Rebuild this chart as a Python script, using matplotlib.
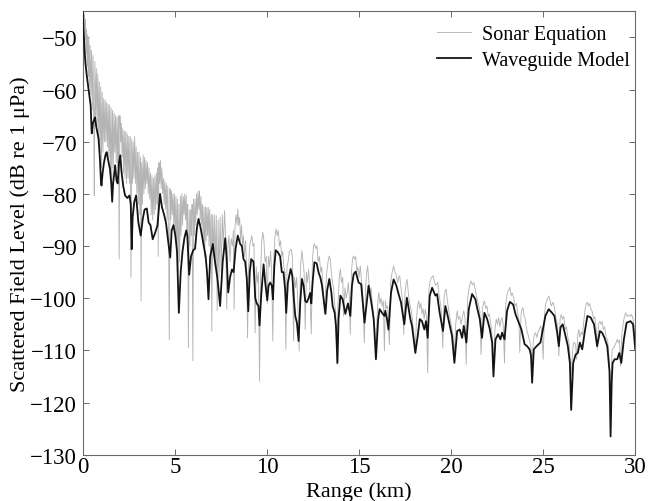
import matplotlib
matplotlib.use("Agg")
import matplotlib.pyplot as plt

plt.rcParams['font.family'] = ['Liberation Serif', 'DejaVu Serif']

# Waveguide Model (black): (range km, level dB)
waveguide = [
    (0.00, -45.0), (0.05, -49.0), (0.10, -52.5), (0.15, -55.0), (0.22, -57.3), (0.30, -59.5),
    (0.36, -61.0), (0.43, -63.0), (0.49, -68.4), (0.55, -66.5), (0.62, -65.8), (0.67, -65.3),
    (0.73, -67.0), (0.79, -68.1), (0.86, -69.4), (0.93, -73.0), (0.99, -77.5), (1.02, -78.4),
    (1.08, -76.0), (1.16, -73.9), (1.24, -72.5), (1.30, -72.0), (1.38, -73.5), (1.48, -75.2),
    (1.55, -78.0), (1.60, -81.5), (1.65, -78.0), (1.70, -76.5), (1.76, -74.5), (1.84, -77.5),
    (1.90, -78.0), (1.97, -74.0), (2.04, -72.6), (2.10, -75.5), (2.20, -78.5), (2.30, -80.3),
    (2.43, -80.8), (2.54, -80.3), (2.61, -82.0), (2.66, -90.6), (2.71, -84.5), (2.80, -81.5),
    (2.90, -80.3), (3.02, -85.4), (3.15, -88.0), (3.26, -84.8), (3.36, -83.0), (3.48, -82.8),
    (3.58, -85.5), (3.68, -86.0), (3.80, -88.7), (3.93, -87.5), (4.06, -86.0), (4.13, -83.0),
    (4.20, -80.0), (4.30, -82.5), (4.42, -84.0), (4.52, -85.5), (4.62, -88.5), (4.75, -92.2),
    (4.83, -87.0), (4.93, -86.0), (5.03, -88.0), (5.12, -91.0), (5.22, -102.8), (5.32, -95.0),
    (5.42, -91.0), (5.52, -88.5), (5.62, -87.0), (5.68, -88.0), (5.78, -95.5), (5.88, -92.0),
    (6.00, -90.8), (6.10, -90.5), (6.20, -86.5), (6.29, -84.8), (6.40, -86.5), (6.55, -89.5),
    (6.67, -91.9), (6.75, -95.0), (6.83, -100.2), (6.92, -92.0), (7.07, -89.6), (7.18, -93.0),
    (7.32, -96.3), (7.46, -101.5), (7.60, -93.0), (7.74, -88.5), (7.82, -92.5), (7.90, -98.9),
    (8.00, -96.0), (8.10, -94.5), (8.19, -95.0), (8.30, -90.5), (8.42, -88.0), (8.55, -89.6),
    (8.64, -90.0), (8.73, -92.5), (8.82, -93.0), (8.91, -96.3), (8.99, -102.5), (9.07, -95.0),
    (9.15, -92.5), (9.27, -93.0), (9.37, -100.0), (9.45, -101.0), (9.54, -101.5), (9.60, -105.2),
    (9.69, -99.5), (9.82, -93.5), (9.91, -97.0), (10.02, -100.4), (10.09, -97.6), (10.18, -97.0),
    (10.27, -97.6), (10.33, -100.2), (10.40, -94.0), (10.48, -90.8), (10.60, -91.2), (10.72, -92.0),
    (10.81, -95.0), (10.90, -95.0), (10.99, -98.3), (11.05, -102.8), (11.14, -97.0), (11.29, -94.4),
    (11.38, -95.7), (11.45, -99.5), (11.54, -103.4), (11.63, -104.7), (11.72, -108.2), (11.81, -100.8),
    (11.90, -96.3), (11.99, -97.6), (12.08, -100.5), (12.17, -100.8), (12.26, -100.0), (12.35, -99.0),
    (12.41, -101.0), (12.48, -97.0), (12.58, -93.1), (12.70, -93.3), (12.81, -95.1), (12.90, -96.0),
    (12.99, -97.5), (13.08, -100.2), (13.18, -103.0), (13.27, -98.5), (13.39, -96.3), (13.50, -98.9),
    (13.57, -101.5), (13.68, -102.8), (13.75, -105.3), (13.83, -112.4), (13.89, -104.0), (13.99, -99.5),
    (14.11, -100.2), (14.26, -103.0), (14.40, -101.0), (14.53, -103.4), (14.62, -97.6), (14.71, -95.4),
    (14.82, -94.9), (14.98, -97.0), (15.12, -97.3), (15.30, -104.7), (15.52, -97.6), (15.70, -101.5),
    (15.80, -104.0), (15.92, -111.7), (16.04, -104.0), (16.12, -102.1), (16.25, -102.8), (16.38, -103.4),
    (16.43, -102.4), (16.52, -104.0), (16.60, -106.0), (16.74, -98.9), (16.88, -96.4), (17.03, -97.6),
    (17.15, -99.2), (17.28, -100.8), (17.46, -105.0), (17.60, -99.9), (17.79, -104.0), (17.88, -105.3),
    (18.06, -110.5), (18.19, -107.2), (18.30, -104.0), (18.42, -104.4), (18.55, -106.0), (18.64, -104.4),
    (18.73, -107.6), (18.84, -99.5), (18.97, -98.0), (19.15, -99.5), (19.24, -99.2), (19.38, -102.8),
    (19.56, -106.3), (19.69, -101.5), (19.78, -102.8), (19.93, -105.3), (20.05, -107.2), (20.18, -112.4),
    (20.33, -106.3), (20.47, -106.0), (20.60, -107.6), (20.69, -105.3), (20.83, -108.5), (20.96, -102.1),
    (21.14, -99.2), (21.32, -100.2), (21.41, -101.8), (21.56, -104.0), (21.68, -107.6), (21.81, -102.8),
    (21.96, -104.0), (22.10, -105.9), (22.23, -108.5), (22.30, -115.0), (22.41, -107.9), (22.55, -106.9),
    (22.68, -107.9), (22.77, -106.6), (22.90, -107.9), (23.04, -102.4), (23.19, -100.7), (23.37, -101.2),
    (23.50, -103.1), (23.68, -104.7), (23.82, -106.0), (23.99, -108.8), (24.13, -109.2), (24.26, -109.8),
    (24.34, -111.0), (24.40, -116.2), (24.49, -109.8), (24.64, -109.2), (24.76, -108.8), (24.85, -108.5),
    (24.98, -106.0), (25.12, -103.4), (25.30, -102.1), (25.48, -102.8), (25.61, -103.4), (25.76, -106.6),
    (25.85, -109.2), (25.94, -105.6), (26.06, -105.0), (26.21, -107.2), (26.34, -109.2), (26.45, -112.4),
    (26.52, -121.4), (26.63, -112.4), (26.76, -110.8), (26.88, -110.5), (26.99, -108.5), (27.12, -109.8),
    (27.25, -106.6), (27.40, -103.4), (27.58, -103.7), (27.76, -105.0), (27.93, -109.2), (28.08, -106.3),
    (28.20, -106.6), (28.33, -107.6), (28.48, -109.2), (28.60, -114.0), (28.66, -126.5), (28.72, -116.0),
    (28.77, -112.4), (28.88, -111.7), (29.02, -111.7), (29.13, -110.5), (29.24, -112.4), (29.38, -107.9),
    (29.53, -104.7), (29.74, -104.4), (29.88, -105.0), (30.00, -109.8),
]

# Sonar Equation (grey): (range km, level dB)
sonar = [
    (0.00, -45.0), (0.03, -44.0), (0.06, -47.5), (0.09, -45.5), (0.12, -50.5), (0.15, -46.5),
    (0.18, -53.0), (0.21, -48.5), (0.24, -55.5), (0.27, -49.5), (0.30, -57.5), (0.33, -50.0),
    (0.36, -59.5), (0.40, -51.5), (0.44, -61.0), (0.48, -52.5), (0.52, -64.0), (0.56, -53.5),
    (0.60, -66.0), (0.63, -80.3), (0.66, -54.6), (0.70, -65.0), (0.74, -56.0), (0.78, -67.0),
    (0.82, -57.0), (0.86, -69.0), (0.90, -58.5), (0.94, -72.0), (0.98, -59.5), (1.02, -75.0),
    (1.06, -60.5), (1.10, -72.0), (1.14, -61.7), (1.18, -70.0), (1.22, -62.0), (1.26, -70.0),
    (1.30, -62.5), (1.34, -71.0), (1.38, -62.8), (1.42, -73.0), (1.46, -63.0), (1.50, -76.0),
    (1.54, -63.5), (1.58, -78.0), (1.62, -64.0), (1.66, -75.0), (1.70, -64.5), (1.74, -72.0),
    (1.78, -65.0), (1.82, -74.0), (1.86, -65.3), (1.90, -75.0), (1.94, -65.0), (1.98, -92.5),
    (2.02, -65.0), (2.06, -70.0), (2.10, -66.5), (2.14, -73.0), (2.18, -67.5), (2.22, -76.0),
    (2.26, -68.0), (2.30, -77.0), (2.34, -68.0), (2.38, -78.0), (2.42, -68.5), (2.46, -77.0),
    (2.50, -69.0), (2.54, -78.0), (2.58, -69.0), (2.62, -96.0), (2.66, -69.5), (2.70, -78.0),
    (2.74, -70.0), (2.78, -77.0), (2.82, -69.0), (2.86, -78.0), (2.90, -71.0), (2.94, -80.0),
    (2.98, -72.0), (3.02, -82.0), (3.06, -72.0), (3.10, -84.0), (3.14, -73.0), (3.17, -100.5),
    (3.20, -74.0), (3.24, -82.0), (3.28, -72.5), (3.32, -80.0), (3.36, -73.0), (3.40, -79.0),
    (3.44, -73.6), (3.48, -78.0), (3.52, -74.0), (3.56, -80.0), (3.60, -75.0), (3.64, -81.0),
    (3.68, -76.0), (3.72, -84.0), (3.76, -76.5), (3.80, -85.0), (3.84, -77.0), (3.88, -84.0),
    (3.92, -76.5), (3.96, -83.0), (4.00, -76.0), (4.04, -82.0), (4.08, -75.0), (4.10, -92.0),
    (4.14, -74.0), (4.18, -78.0), (4.22, -73.6), (4.26, -79.0), (4.30, -75.0), (4.34, -80.0),
    (4.38, -77.0), (4.42, -82.0), (4.46, -77.5), (4.50, -83.0), (4.54, -78.0), (4.58, -85.0),
    (4.62, -78.5), (4.66, -88.0), (4.70, -108.0), (4.74, -79.0), (4.78, -85.0), (4.82, -79.5),
    (4.86, -84.0), (4.90, -80.0), (4.94, -86.0), (4.98, -80.0), (5.02, -88.0), (5.06, -80.5),
    (5.10, -90.0), (5.14, -81.0), (5.18, -95.0), (5.22, -82.0), (5.26, -93.0), (5.30, -80.5),
    (5.34, -88.0), (5.38, -80.0), (5.42, -86.0), (5.46, -80.5), (5.50, -84.0), (5.54, -80.0),
    (5.58, -85.0), (5.62, -80.3), (5.66, -88.0), (5.70, -82.0), (5.74, -109.5), (5.78, -83.0),
    (5.82, -90.0), (5.86, -83.0), (5.90, -88.0), (5.94, -82.0), (5.98, -112.0), (6.02, -81.0),
    (6.06, -88.0), (6.10, -81.0), (6.14, -86.0), (6.18, -80.0), (6.22, -84.0), (6.26, -79.5),
    (6.30, -83.0), (6.34, -79.4), (6.38, -85.0), (6.42, -80.5), (6.46, -86.0), (6.50, -82.0),
    (6.54, -90.0), (6.58, -82.5), (6.62, -92.0), (6.66, -82.5), (6.70, -89.0), (6.74, -82.6),
    (6.78, -88.0), (6.82, -82.6), (6.86, -90.0), (6.90, -83.0), (6.94, -92.0), (6.98, -84.0),
    (7.01, -106.3), (7.05, -84.0), (7.10, -92.0), (7.15, -84.0), (7.20, -94.0), (7.25, -84.2),
    (7.30, -102.4), (7.35, -85.0), (7.40, -96.0), (7.46, -84.5), (7.52, -95.0), (7.58, -84.0),
    (7.64, -90.0), (7.70, -83.2), (7.76, -88.0), (7.82, -102.1), (7.88, -90.0), (7.94, -88.0),
    (8.00, -93.0), (8.06, -88.5), (8.13, -90.0), (8.18, -87.0), (8.22, -102.1), (8.27, -86.0),
    (8.33, -84.0), (8.38, -86.0), (8.42, -82.9), (8.47, -86.0), (8.52, -84.5), (8.57, -89.0),
    (8.62, -86.0), (8.68, -90.0), (8.73, -88.0), (8.78, -92.0), (8.84, -89.0), (8.90, -94.0),
    (8.95, -107.6), (9.00, -95.0), (9.06, -90.0), (9.12, -89.0), (9.18, -88.0), (9.24, -90.0),
    (9.30, -89.5), (9.36, -106.6), (9.42, -94.0), (9.48, -97.0), (9.54, -95.0), (9.60, -115.9),
    (9.66, -95.0), (9.72, -89.0), (9.78, -87.4), (9.84, -89.0), (9.90, -93.0), (9.96, -92.0),
    (10.02, -101.0), (10.08, -92.0), (10.14, -94.0), (10.20, -91.0), (10.26, -95.0), (10.32, -108.2),
    (10.38, -92.0), (10.44, -88.0), (10.50, -86.7), (10.56, -88.0), (10.62, -87.0), (10.68, -90.0),
    (10.74, -89.0), (10.80, -92.0), (10.86, -91.0), (10.92, -94.0), (10.98, -95.0), (11.03, -109.8),
    (11.09, -94.0), (11.15, -93.0), (11.22, -91.0), (11.32, -90.6), (11.38, -92.0), (11.45, -108.2),
    (11.50, -96.0), (11.56, -98.0), (11.62, -96.0), (11.68, -101.0), (11.75, -110.1), (11.82, -94.0),
    (11.90, -90.9), (11.96, -93.0), (12.02, -95.0), (12.08, -106.0), (12.14, -95.0), (12.20, -97.0),
    (12.26, -94.5), (12.32, -97.0), (12.41, -106.9), (12.47, -93.0), (12.53, -90.0), (12.59, -89.6),
    (12.65, -90.5), (12.72, -90.0), (12.78, -93.0), (12.85, -92.0), (12.92, -95.0), (12.98, -94.0),
    (13.05, -98.0), (13.12, -103.0), (13.18, -99.0), (13.25, -95.0), (13.32, -93.0), (13.38, -91.9),
    (13.44, -92.5), (13.50, -95.0), (13.56, -97.0), (13.62, -98.0), (13.68, -101.0), (13.74, -103.0),
    (13.80, -112.7), (13.86, -101.0), (13.93, -96.0), (13.99, -94.4), (14.05, -97.0), (14.12, -96.0),
    (14.16, -103.4), (14.24, -98.0), (14.30, -100.0), (14.36, -99.0), (14.42, -97.0), (14.48, -100.0),
    (14.53, -106.9), (14.59, -95.0), (14.65, -92.5), (14.70, -91.9), (14.76, -92.5), (14.82, -92.0),
    (14.88, -95.0), (14.94, -94.0), (15.00, -96.0), (15.07, -93.8), (15.14, -97.0), (15.20, -99.0),
    (15.29, -108.5), (15.36, -98.0), (15.42, -95.0), (15.47, -93.8), (15.54, -97.0), (15.60, -99.0),
    (15.66, -98.0), (15.72, -101.0), (15.80, -104.0), (15.86, -106.0), (15.92, -110.0), (15.98, -104.0),
    (16.04, -100.0), (16.07, -98.9), (16.14, -101.0), (16.20, -100.0), (16.26, -101.5), (16.32, -100.5),
    (16.38, -110.1), (16.43, -100.5), (16.50, -102.0), (16.56, -101.5), (16.65, -108.9), (16.72, -97.0),
    (16.80, -95.0), (16.88, -93.8), (16.95, -95.0), (17.02, -95.5), (17.10, -97.0), (17.16, -96.0),
    (17.21, -95.7), (17.28, -98.0), (17.35, -100.0), (17.43, -106.9), (17.50, -99.0), (17.56, -97.0),
    (17.61, -96.4), (17.68, -99.0), (17.75, -101.0), (17.82, -102.0), (17.90, -104.0), (17.98, -107.0),
    (18.06, -109.5), (18.12, -104.0), (18.18, -101.5), (18.24, -100.5), (18.30, -102.0), (18.36, -101.0),
    (18.42, -103.0), (18.48, -102.0), (18.54, -104.0), (18.60, -102.1), (18.66, -103.5), (18.73, -114.3),
    (18.80, -98.0), (18.88, -96.5), (18.95, -96.0), (19.02, -95.7), (19.08, -96.5), (19.15, -97.5),
    (19.22, -97.3), (19.28, -97.0), (19.35, -99.5), (19.42, -101.0), (19.48, -103.0), (19.55, -109.5),
    (19.62, -100.0), (19.68, -98.5), (19.73, -98.3), (19.80, -100.5), (19.88, -102.5), (19.95, -104.0),
    (20.02, -105.5), (20.10, -107.0), (20.18, -110.5), (20.25, -105.0), (20.33, -102.4), (20.40, -104.0),
    (20.47, -103.5), (20.54, -105.0), (20.62, -103.5), (20.69, -102.4), (20.76, -104.0), (20.82, -112.7),
    (20.90, -100.0), (20.98, -98.0), (21.05, -97.0), (21.09, -96.7), (21.16, -97.5), (21.24, -97.0),
    (21.32, -98.5), (21.40, -100.0), (21.48, -101.0), (21.56, -102.5), (21.63, -110.8), (21.70, -102.0),
    (21.76, -101.0), (21.81, -100.5), (21.88, -102.0), (21.95, -101.5), (22.02, -103.5), (22.08, -103.0),
    (22.14, -104.7), (22.20, -106.0), (22.30, -112.0), (22.38, -106.0), (22.45, -104.0), (22.52, -105.0),
    (22.58, -103.7), (22.65, -105.5), (22.72, -104.0), (22.77, -103.7), (22.83, -105.0), (22.90, -112.4),
    (22.97, -101.0), (23.05, -99.0), (23.12, -98.5), (23.19, -97.9), (23.26, -99.5), (23.32, -99.0),
    (23.40, -100.0), (23.48, -101.5), (23.55, -101.0), (23.62, -103.0), (23.68, -104.0), (23.73, -110.4),
    (23.80, -103.0), (23.86, -102.0), (23.90, -101.8), (23.97, -103.5), (24.03, -104.0), (24.10, -106.0),
    (24.18, -107.0), (24.25, -108.0), (24.32, -109.0), (24.40, -112.0), (24.47, -108.0), (24.53, -107.0),
    (24.59, -106.6), (24.66, -107.5), (24.72, -106.5), (24.79, -106.0), (24.86, -105.3), (24.93, -106.5),
    (25.00, -111.7), (25.07, -103.0), (25.14, -101.0), (25.22, -100.2), (25.31, -99.6), (25.38, -100.5),
    (25.44, -101.5), (25.50, -101.0), (25.55, -100.8), (25.62, -102.0), (25.70, -104.0), (25.78, -105.0),
    (25.85, -111.1), (25.92, -104.0), (25.98, -103.1), (26.05, -104.0), (26.12, -103.5), (26.20, -106.0),
    (26.27, -105.5), (26.34, -107.5), (26.42, -109.0), (26.52, -115.0), (26.60, -110.0), (26.66, -108.5),
    (26.71, -108.5), (26.76, -109.0), (26.81, -111.7), (26.88, -107.0), (26.94, -106.0), (27.00, -107.5),
    (27.07, -106.5), (27.14, -107.0), (27.20, -104.5), (27.28, -102.0), (27.34, -101.0), (27.39, -100.8),
    (27.46, -101.5), (27.52, -101.0), (27.58, -102.0), (27.66, -102.5), (27.74, -104.0), (27.80, -103.5),
    (27.88, -106.0), (27.94, -109.8), (28.00, -105.0), (28.08, -104.4), (28.14, -105.0), (28.20, -104.5),
    (28.27, -106.0), (28.34, -105.5), (28.42, -107.5), (28.50, -108.0), (28.58, -112.0), (28.66, -118.0),
    (28.74, -110.0), (28.82, -109.5), (28.90, -109.0), (28.96, -108.5), (29.02, -107.9), (29.08, -108.5),
    (29.14, -108.0), (29.20, -113.0), (29.27, -107.0), (29.34, -105.0), (29.41, -103.5), (29.48, -102.8),
    (29.56, -103.5), (29.64, -103.2), (29.72, -103.5), (29.80, -103.1), (29.88, -104.0), (29.95, -106.0),
    (30.00, -108.5),
]

x_ticks = [0, 5, 10, 15, 20, 25, 30]
y_ticks = [-130, -120, -110, -100, -90, -80, -70, -60, -50]

wg_km = [p[0] for p in waveguide]
wg_db = [p[1] for p in waveguide]
so_km = [p[0] for p in sonar]
so_db = [p[1] for p in sonar]

fig = plt.figure(figsize=(6.59, 5.02), dpi=100)
ax = fig.add_axes([0.1255, 0.0922, 0.8385, 0.8833])

ax.plot(so_km, so_db, color='#b4b4b4', lw=0.65, label='Sonar Equation', zorder=2)
ax.plot(wg_km, wg_db, color='#141414', lw=1.3, label='Waveguide Model', zorder=3)

ax.set_xlim(0, 30)
ax.set_ylim(-130, -45)
ax.set_xticks(x_ticks)
ax.set_yticks(y_ticks)

for s in ax.spines.values():
    s.set_color('#6a6a6a')
    s.set_linewidth(0.8)
ax.tick_params(direction='in', length=4, width=0.7, color='#6a6a6a',
               top=True, right=True, labelsize=16.5)
ax.tick_params(axis='y', pad=4)
ax.tick_params(axis='x', pad=1)

ax.set_xlabel('Range (km)', fontsize=16, labelpad=3)
ax.set_ylabel('Scattered Field Level (dB re 1 \u03bcPa)', fontsize=16, labelpad=0)

leg = ax.legend(loc='upper right', bbox_to_anchor=(0.990, 0.970), frameon=False,
                fontsize=14.5, handlelength=1.7, handletextpad=0.55, labelspacing=0.35,
                borderaxespad=0.0, borderpad=0.0)

fig.savefig('out.png', dpi=100)
